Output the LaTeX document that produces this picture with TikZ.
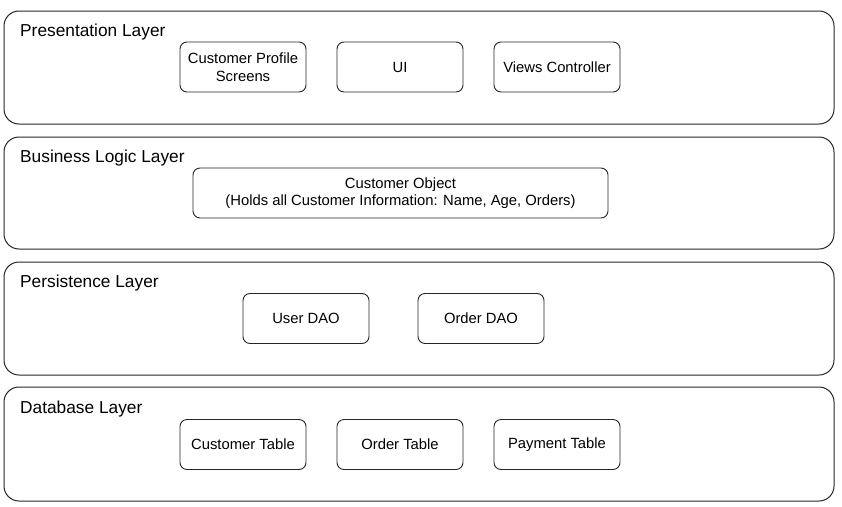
\documentclass[tikz,border=0pt]{standalone}
\usepackage{fontspec}
\setmainfont{Liberation Sans}
\begin{document}
\begin{tikzpicture}[x=1pt,y=-1pt,
  layer/.style={draw=black!85, line width=1pt, rounded corners=15pt},
  comp/.style={draw=black!85, line width=0.9pt, rounded corners=7pt, minimum width=126pt, minimum height=50pt, align=center, font=\fontsize{14.8}{17.5}\selectfont, inner sep=2pt},
  lab/.style={anchor=base west, font=\fontsize{17.3}{20}\selectfont, inner sep=0pt}]
\useasboundingbox (0,0) rectangle (842,506);
% layers
\draw[layer] (4,11) rectangle (834,124);
\draw[layer] (4,137) rectangle (834,249);
\draw[layer] (4,262) rectangle (834,375);
\draw[layer] (4,387) rectangle (834,501);
\node[lab] (l1) at (20,36.7) {Presentation Layer};
\node[lab] (l2) at (20,162.3) {Business Logic Layer};
\node[lab] (l3) at (20,287.7) {Persistence Layer};
\node[lab] (l4) at (20,413.3) {Database Layer};
% presentation
\node[comp] (cps) at (243,67) {Customer Profile\\Screens};
\node[comp] (ui) at (400,67) {UI};
\node[comp] (vc) at (557,67) {Views Controller};
% business
\node[comp, minimum width=415pt] (co) at (400.5,193) {Customer Object\\(Holds all Customer Information: Name, Age, Orders)};
% persistence
\node[comp] (udao) at (306,318.5) {User DAO};
\node[comp] (odao) at (481,318.5) {Order DAO};
% database
\node[comp] (ct) at (243,444.5) {Customer Table};
\node[comp] (ot) at (400,444.5) {Order Table};
\node[comp] (pt) at (557,444.5) {Payment Table};
\end{tikzpicture}
\end{document}
